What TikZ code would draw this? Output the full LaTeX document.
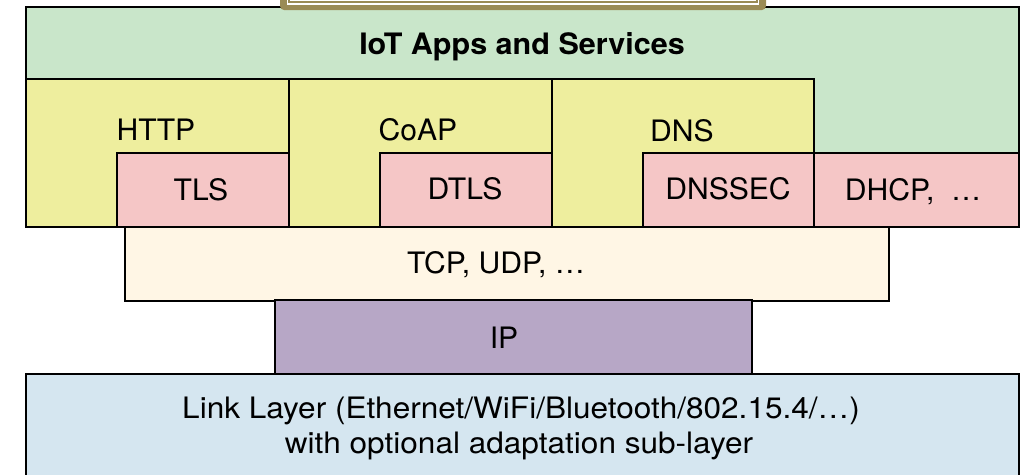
\documentclass[tikz,border=0pt]{standalone}
\usepackage{fontspec}
\setmainfont[FakeStretch=1.02]{TeX Gyre Heros}
\newfontfamily\linkfont[FakeStretch=1.07]{TeX Gyre Heros}
\newfontfamily\titlefont[FakeStretch=1.035]{TeX Gyre Heros}
\definecolor{appgreen}{HTML}{C9E6CA}
\definecolor{protoyellow}{HTML}{EEEE9E}
\definecolor{secpink}{HTML}{F5C6C6}
\definecolor{transcream}{HTML}{FFF6E5}
\definecolor{ippurple}{HTML}{B7A7C6}
\definecolor{linkblue}{HTML}{D5E6F0}
\definecolor{olivebox}{HTML}{9A8B55}
\tikzset{
  layerbox/.style={draw=black, line width=2pt, inner sep=0pt, outer sep=0pt, anchor=north west},
  lbl/.style={anchor=base, inner sep=0pt, font=\fontsize{29.5}{35}\selectfont},
}
\begin{document}
\begin{tikzpicture}[x=1pt,y=-1pt]
\useasboundingbox (0,0) rectangle (1022,474);
\clip (0,0) rectangle (1022,474);
% application layer background
\node[layerbox, fill=appgreen, minimum width=993pt, minimum height=220pt] (apps) at (26,7) {};
% top partial box
\fill[olivebox, rounded corners=4pt] (280,-30) rectangle (766,10);
\fill[white] (287,-30) rectangle (759,4.5);
\draw[olivebox, line width=1.5pt] (289,-30) rectangle (757,2);
\node[lbl, font=\titlefont\fontsize{29.5}{35}\selectfont\bfseries] (appst) at (522,54) {IoT Apps and Services};
% application protocols
\node[layerbox, fill=protoyellow, minimum width=263pt, minimum height=148pt] (http) at (26,79) {};
\node[layerbox, fill=protoyellow, minimum width=263pt, minimum height=148pt] (coap) at (289,79) {};
\node[layerbox, fill=protoyellow, minimum width=262pt, minimum height=148pt] (dns) at (552,79) {};
\node[layerbox, fill=secpink, minimum width=172pt, minimum height=74pt] (tls) at (117,153) {};
\node[layerbox, fill=secpink, minimum width=172pt, minimum height=74pt] (dtls) at (380,153) {};
\node[layerbox, fill=secpink, minimum width=171pt, minimum height=74pt] (dnssec) at (643,153) {};
\node[layerbox, fill=secpink, minimum width=205pt, minimum height=74pt] (dhcp) at (814,153) {};
\node[lbl] (httpt) at (156,140) {HTTP};
\node[lbl] (coapt) at (418,140) {CoAP};
\node[lbl] (dnst) at (682,141) {DNS};
\node[lbl] (tlst) at (201,200) {TLS};
\node[lbl] (dtlst) at (465,199) {DTLS};
\node[lbl] (dnssect) at (728,199) {DNSSEC};
\node[lbl] (dhcpt) at (913,200) {DHCP,\ \ …};
% transport
\node[layerbox, fill=transcream, minimum width=764pt, minimum height=74pt] (tcp) at (125,227) {};
\node[lbl] (tcpt) at (496,273) {TCP, UDP, …};
% network
\node[layerbox, fill=ippurple, minimum width=477pt, minimum height=74pt] (ip) at (275,300) {};
\node[lbl] (ipt) at (504,348) {IP};
% link
\node[layerbox, fill=linkblue, minimum width=993pt, minimum height=120pt] (link) at (26,374) {};
\node[lbl, font=\linkfont\fontsize{29.5}{35}\selectfont] (linkt1) at (521,418) {Link Layer (Ethernet/WiFi/Bluetooth/802.15.4/…)};
\node[lbl, font=\linkfont\fontsize{29.5}{35}\selectfont] (linkt2) at (519,453) {with optional adaptation sub-layer};
\end{tikzpicture}
\end{document}
